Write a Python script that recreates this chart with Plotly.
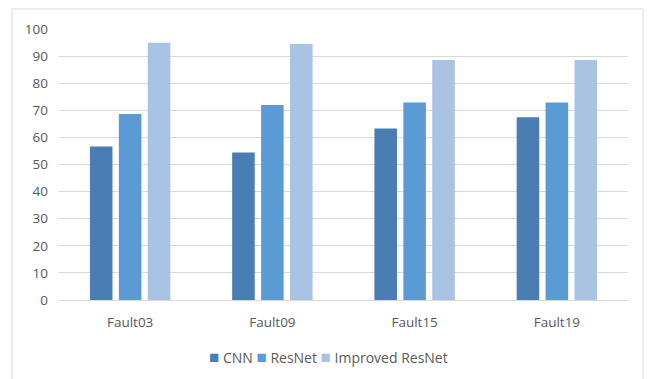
import plotly.graph_objects as go

categories = ["Fault03", "Fault09", "Fault15", "Fault19"]
cnn = [56.6, 54.4, 63.3, 67.4]
resnet = [68.6, 72.0, 72.9, 72.9]
improved_resnet = [94.9, 94.5, 88.6, 88.6]

series = [
    ("CNN", cnn, "#4a7db3"),
    ("ResNet", resnet, "#5b9bd5"),
    ("Improved ResNet", improved_resnet, "#a9c3e5"),
]

fig = go.Figure()
for name, vals, color in series:
    fig.add_trace(go.Bar(x=categories, y=vals, name=name, marker_color=color,
                         marker_line_width=0, showlegend=False))

W, H = 653, 379
L, R, T, B = 59, 25, 29, 79
pw, ph = W - L - R, H - T - B

def px_x(p):
    return (p - L) / pw

def px_y(p):
    return (H - B - p) / ph

# compact legend row: coloured square marker followed by the series name
legend_html = " ".join(
    f"<span style='color:{c};font-size:17px'>■</span> {n}" for n, _, c in series
)

fig.update_layout(
    width=W, height=H,
    margin=dict(l=L, r=R, t=T, b=B),
    paper_bgcolor="white", plot_bgcolor="white",
    barmode="group", bargap=0.39, bargroupgap=0.22,
    font=dict(family="Open Sans", size=13, color="#595959"),
    xaxis=dict(showgrid=False, showline=True, linecolor="#d9d9d9", linewidth=1,
               ticks="", ticklabelstandoff=10, automargin=False,
               tickfont=dict(size=13.5, color="#595959")),
    yaxis=dict(range=[0, 100], dtick=10, showgrid=True, gridcolor="#d9d9d9",
               gridwidth=1, zeroline=False, showline=False, ticks="",
               ticklabelstandoff=10, automargin=False,
               tickfont=dict(size=13.5, color="#595959")),
    annotations=[dict(text=legend_html, xref="paper", yref="paper",
                      x=px_x(328), y=px_y(356), xanchor="center", yanchor="middle",
                      showarrow=False, font=dict(size=14, color="#595959"))],
    shapes=[dict(type="rect", xref="paper", yref="paper",
                 x0=px_x(12), x1=px_x(643), y0=px_y(390), y1=px_y(9),
                 line=dict(color="#d9d9d9", width=1), layer="below")],
)

fig.write_html("out.html")
